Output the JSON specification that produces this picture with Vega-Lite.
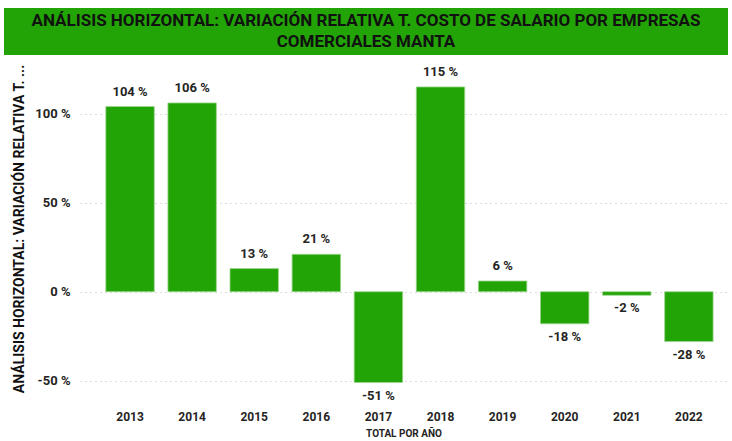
{
  "$schema": "https://vega.github.io/schema/vega-lite/v6.json",
  "background": "white",
  "padding": {"left": 4, "top": 8, "right": 4, "bottom": 0},
  "spacing": 7,
  "config": {
    "font": "Roboto, sans-serif"
  },
  "vconcat": [
    {
      "width": 724,
      "height": 47,
      "view": {"fill": "#22A306", "stroke": null},
      "data": {"values": [{"t": "ANÁLISIS HORIZONTAL: VARIACIÓN RELATIVA T. COSTO DE SALARIO POR EMPRESAS\nCOMERCIALES MANTA"}]},
      "mark": {"type": "text", "fontSize": 17, "fontWeight": "bold", "color": "#111111", "lineBreak": "\n", "lineHeight": 21, "baseline": "middle", "align": "center", "dy": -11},
      "encoding": {"text": {"field": "t"}}
    },
    {
      "width": 724,
      "height": 333,
      "view": {"stroke": null},
      "data": {"values": [
        {"year": "2013", "v": 104},
        {"year": "2014", "v": 106},
        {"year": "2015", "v": 13},
        {"year": "2016", "v": 21},
        {"year": "2017", "v": -51},
        {"year": "2018", "v": 115},
        {"year": "2019", "v": 6},
        {"year": "2020", "v": -18},
        {"year": "2021", "v": -2},
        {"year": "2022", "v": -28}
      ]},
      "transform": [{"calculate": "datum.v + ' %'", "as": "lbl"}],
      "encoding": {
        "x": {
          "field": "year", "type": "ordinal", "sort": null,
          "scale": {"range": [76, 723], "paddingInner": 0.22, "paddingOuter": 0.32, "align": 0.65},
          "axis": {"title": "TOTAL POR AÑO", "labelAngle": 0, "labelFontSize": 12, "labelFontWeight": "bold", "labelColor": "#252423", "ticks": false, "domain": false, "labelPadding": 16, "titleFontSize": 10, "titleFontWeight": "bold", "titleColor": "#252423", "titlePadding": 6}
        },
        "y": {
          "field": "v", "type": "quantitative",
          "scale": {"domain": [-58, 129], "nice": false, "zero": false},
          "axis": {"offset": -76, "title": "ANÁLISIS HORIZONTAL: VARIACIÓN RELATIVA T. ...", "titleFontSize": 14, "titleFontWeight": "bold", "titleColor": "#111111", "titlePadding": 8, "values": [-50, 0, 50, 100], "labelExpr": "datum.value + ' %'", "labelFontSize": 13, "labelFontWeight": "bold", "labelColor": "#252423", "labelPadding": 10, "ticks": false, "domain": false, "gridDash": [1, 4], "gridColor": "#bbbbbb", "gridWidth": 1}
        }
      },
      "layer": [
        {"mark": {"type": "bar", "color": "#22A306", "stroke": "#9ad68c", "strokeWidth": 0.8}},
        {
          "transform": [{"filter": "datum.v >= 0"}],
          "mark": {"type": "text", "baseline": "bottom", "dy": -8, "fontSize": 13, "fontWeight": "bold", "color": "#252423"},
          "encoding": {"text": {"field": "lbl"}}
        },
        {
          "transform": [{"filter": "datum.v < 0"}],
          "mark": {"type": "text", "baseline": "top", "dy": 7, "fontSize": 13, "fontWeight": "bold", "color": "#252423"},
          "encoding": {"text": {"field": "lbl"}}
        }
      ]
    }
  ]
}
